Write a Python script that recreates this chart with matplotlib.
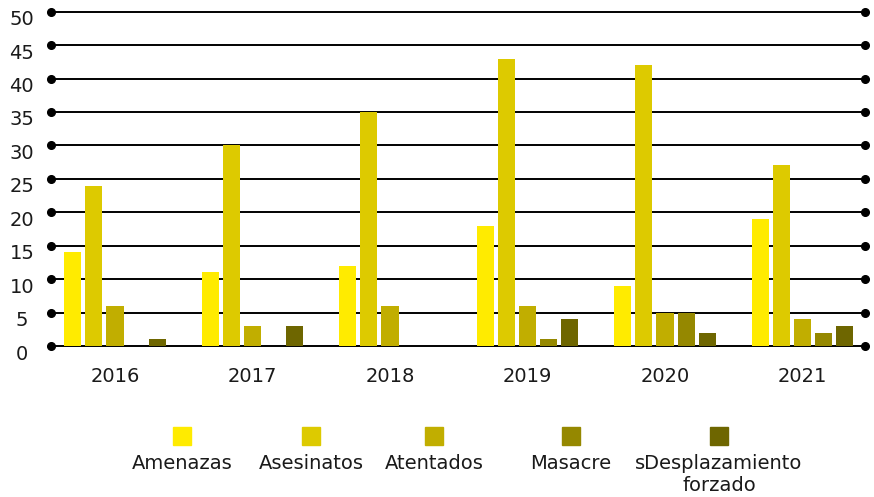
import numpy as np
import matplotlib
matplotlib.use("Agg")
import matplotlib.pyplot as plt
from matplotlib.patches import Rectangle
from matplotlib.transforms import ScaledTranslation

plt.rcParams['font.family'] = ['DejaVu Sans']

years = ["2016", "2017", "2018", "2019", "2020", "2021"]
series = ["Amenazas", "Asesinatos", "Atentados", "Masacre", "sDesplazamiento\nforzado"]
amenazas = [14, 11, 12, 18, 9, 19]
asesinatos = [24, 30, 35, 43, 42, 27]
atentados = [6, 3, 6, 6, 5, 4]
masacre = [0, 0, 0, 1, 5, 2]
desplazamiento = [1, 3, 0, 4, 2, 3]
colors = ["#FFEB00", "#DDCA00", "#C1AE00", "#958800", "#6E6600"]
yticks = [0, 5, 10, 15, 20, 25, 30, 35, 40, 45, 50]

values = [amenazas, asesinatos, atentados, masacre, desplazamiento]

fig = plt.figure(figsize=(8.74, 4.97), dpi=100)
ax = fig.add_axes([51 / 874, 151 / 497, 814 / 874, 334.3 / 497])

x = np.arange(len(years))
step = 0.153
width = 0.124
for i, (vals, c) in enumerate(zip(values, colors)):
    ax.bar(x + (i - 2) * step, vals, width, color=c, zorder=2)

xmin, xmax = -0.4655, 5.4545
for y in yticks:
    ax.plot([xmin, xmax], [y, y], color="black", lw=1.4, marker="o",
            markersize=5.5, clip_on=False, zorder=1)

ax.set_xlim(xmin, xmax)
ax.set_ylim(0, 50)
for s in ax.spines.values():
    s.set_visible(False)

ax.set_xticks(x)
ax.set_xticklabels(years, fontsize=14, color="#1a1a1a")
ax.set_yticks(yticks)
ax.set_yticklabels([str(v) for v in yticks], fontsize=14, color="#1a1a1a", ha="center")
ax.tick_params(axis="both", length=0)
ax.tick_params(axis="x", pad=15)
ax.tick_params(axis="y", pad=21)
for lbl in ax.get_yticklabels():
    lbl.set_transform(lbl.get_transform() + ScaledTranslation(0, -6 / 100, fig.dpi_scale_trans))

# legend: square above, label below
leg_x = [182, 311, 434, 571, 719]
W, H = 874, 497
for cx, c, name in zip(leg_x, colors, series):
    fig.patches.append(Rectangle(((cx - 9) / W, 1 - 445 / H), 18 / W, 18 / H,
                                 transform=fig.transFigure, color=c))
    fig.text(cx / W, 1 - 454 / H, name, ha="center", va="top", fontsize=14,
             color="#1a1a1a", linespacing=1.2)

fig.savefig("out.png", dpi=100)
